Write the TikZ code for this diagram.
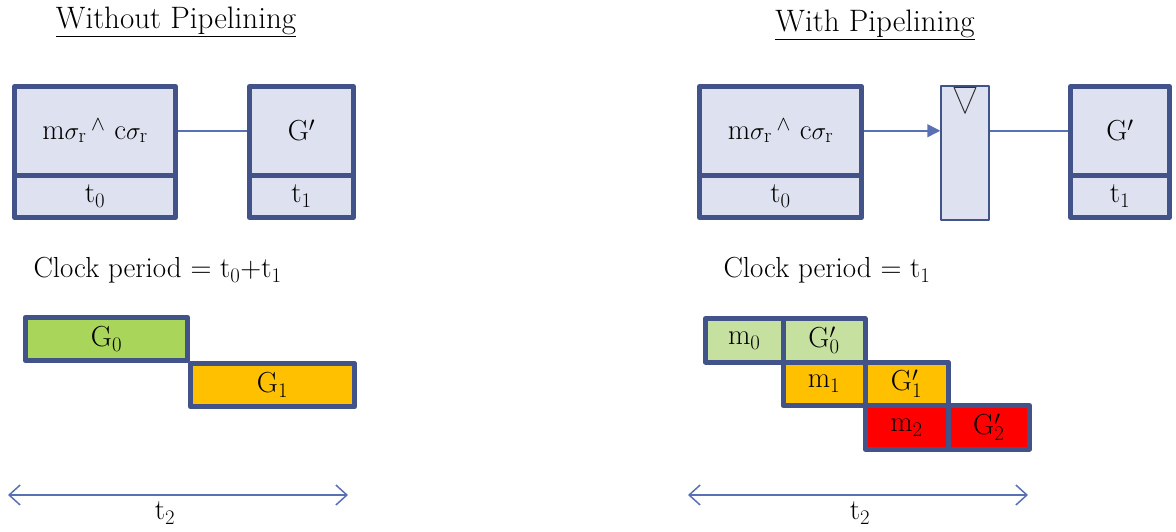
\documentclass[tikz,border=0pt]{standalone}
\usepackage{xcolor}
\definecolor{boxFill}{HTML}{DEE2F0}
\definecolor{boxEdge}{HTML}{42538A}
\definecolor{linkBlue}{HTML}{5A70B5}
\definecolor{stageGreen}{HTML}{A9D65A}
\definecolor{stageLight}{HTML}{C6E0A0}
\definecolor{stageOrange}{HTML}{FFC000}
\definecolor{stageRed}{HTML}{FF0000}
\usepackage{tikz}
\usetikzlibrary{arrows.meta}

\begin{document}
\begin{tikzpicture}[x=1pt, y=-1pt, line join=round,
    font=\fontsize{29}{33}\selectfont,
    cell/.style={draw=boxEdge, fill=boxFill, line width=5pt, inner sep=0pt},
    bar/.style={draw=boxEdge, line width=5pt, inner sep=0pt, minimum height=43.5pt},
    link/.style={draw=linkBlue, line width=1.5pt},
    span/.style={draw=linkBlue, line width=1.5pt,
      {Straight Barb[length=11pt,width=20pt]}-{Straight Barb[length=11pt,width=20pt]}}]
  \useasboundingbox (0,0) rectangle (1176,531);
  % ---------- without pipelining ----------
  \node (titleA) at (176,22) {\fontsize{31}{35}\selectfont\underline{Without Pipelining}};
  \node[cell, minimum width=161pt, minimum height=88.5pt] (opA) at (95,130.75)
    {m$\sigma_{\mathrm r}$\,$^{\wedge}$ c$\sigma_{\mathrm r}$};
  \node[cell, minimum width=161pt, minimum height=42.5pt] (tA0) at (95,196.25) {t$_0$};
  \node[cell, minimum width=104pt, minimum height=88.5pt] (gA) at (301.5,130.75) {G$'$};
  \node[cell, minimum width=104pt, minimum height=42.5pt] (tA1) at (301.5,196.25) {t$_1$};
  \draw[link] (opA.east) -- (gA.west);
  \node[anchor=west] (clkA) at (30,270) {Clock period = t$_0$+t$_1$};
  % timing: one long cycle per item
  \node[bar, fill=stageGreen, minimum width=162pt] (gA0) at (106.5,339) {G$_0$};
  \node[bar, fill=stageOrange, minimum width=164pt] (gA1) at (272.5,385) {G$_1$};
  \coordinate (spanAl) at (8,495);
  \coordinate (spanAr) at (348,495);
  \draw[span] (spanAl) -- (spanAr);
  \node (tA2) at (165,513) {t$_2$};
  % ---------- with pipelining ----------
  \node (titleB) at (875,25) {\fontsize{31}{35}\selectfont\underline{With Pipelining}};
  \node[cell, minimum width=162pt, minimum height=88.5pt] (opB) at (780.5,130.75)
    {m$\sigma_{\mathrm r}$\,$^{\wedge}$ c$\sigma_{\mathrm r}$};
  \node[cell, minimum width=162pt, minimum height=42.5pt] (tB0) at (780.5,196.25) {t$_0$};
  \node[draw=boxEdge, fill=boxFill, line width=1.5pt, minimum width=48pt,
    minimum height=134pt, inner sep=0pt] (regB) at (965,153) {};
  % clock mark of the register
  \draw[line width=1pt, black!80] ([xshift=-11pt,yshift=-2pt]regB.north)
    -- ([xshift=11pt,yshift=-2pt]regB.north) -- ([yshift=-28pt]regB.north) -- cycle;
  \node[cell, minimum width=99pt, minimum height=88.5pt] (gB) at (1120,130.75) {G$'$};
  \node[cell, minimum width=99pt, minimum height=42.5pt] (tB1) at (1120,196.25) {t$_1$};
  \draw[link, -{Triangle[length=13pt,width=13pt]}] (opB.east) -- (opB.east -| regB.west);
  \draw[link] (regB.east |- gB.west) -- (gB.west);
  \node[anchor=west] (clkB) at (720,270) {Clock period = t$_1$};
  % timing: two short stages per item, overlapped
  \node[bar, fill=stageLight, minimum width=77.5pt] (mB0) at (744.25,340.25) {m$_0$};
  \node[bar, fill=stageLight, minimum width=82pt] (gB0) at (824,340.25) {G$'_0$};
  \node[bar, fill=stageOrange, minimum width=82pt] (mB1) at (824,383.75) {m$_1$};
  \node[bar, fill=stageOrange, minimum width=83pt] (gB1) at (906.5,383.75) {G$'_1$};
  \node[bar, fill=stageRed, minimum width=83pt] (mB2) at (906.5,427.25) {m$_2$};
  \node[bar, fill=stageRed, minimum width=81.5pt] (gB2) at (988.75,427.25) {G$'_2$};
  \coordinate (spanBl) at (688,495);
  \coordinate (spanBr) at (1028,495);
  \draw[span] (spanBl) -- (spanBr);
  \node (tB2) at (860,513) {t$_2$};
\end{tikzpicture}
\end{document}
